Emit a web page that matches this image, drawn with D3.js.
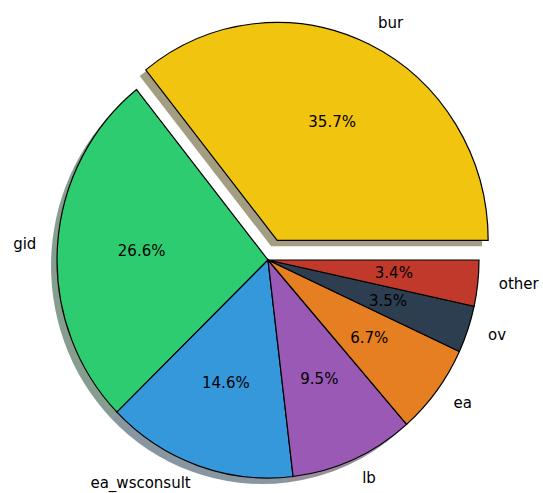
<!DOCTYPE html>
<html>
<head>
<meta charset="utf-8">
<script src="https://cdn.jsdelivr.net/npm/d3@7"></script>
<style>
  body { margin: 0; background: #fff; }
  svg text { font-family: "DejaVu Sans", sans-serif; font-size: 15px; fill: #000; }
</style>
</head>
<body>
<div id="chart"></div>
<script>
// data
const labels = ["bur", "gid", "ea_wsconsult", "lb", "ea", "ov", "other"];
const values = [35.7, 26.6, 14.6, 9.5, 6.7, 3.5, 3.4];
const colors = ["#f1c40f", "#2ecc71", "#3498db", "#9b59b6", "#e67e22", "#2c3e50", "#c0392b"];
const explode = [0.1, 0, 0, 0, 0, 0, 0];

const width = 543, height = 493;
const cx = 268, cy = 260, rx = 211, ry = 218;

// data units -> pixels (pie is a bit taller than wide)
const x = d3.scaleLinear().domain([-1, 1]).range([cx - rx, cx + rx]);
const y = d3.scaleLinear().domain([-1, 1]).range([cy + ry, cy - ry]);

const svg = d3.select("#chart")
    .append("svg")
    .attr("width", width)
    .attr("height", height);

// matplotlib style: start at 3 o'clock, counterclockwise
const pie = d3.pie().sort(null)
    .startAngle(Math.PI / 2)
    .endAngle(Math.PI / 2 - 2 * Math.PI)
    .value(d => d.value);

const data = labels.map((l, i) => ({ label: l, value: values[i], color: colors[i], explode: explode[i] }));
const arcs = pie(data);

const arc = d3.arc().innerRadius(0).outerRadius(1);

// mid angle in math convention
const theta = d => Math.PI / 2 - (d.startAngle + d.endAngle) / 2;
const offX = d => d.data.explode * Math.cos(theta(d));
const offY = d => d.data.explode * Math.sin(theta(d));

const wedgeTransform = (d, dx, dy) =>
    `translate(${x(offX(d)) + dx},${y(offY(d)) + dy}) scale(${rx},${ry})`;

// shadows first (below every wedge)
svg.append("g").selectAll("path")
    .data(arcs)
    .enter().append("path")
    .attr("d", arc)
    .attr("transform", d => wedgeTransform(d, -6, 6))
    .attr("fill", d => {
        const c = d3.rgb(d.data.color);
        return d3.rgb(c.r * 0.3, c.g * 0.3, c.b * 0.3);
    })
    .attr("fill-opacity", 0.5);

svg.append("g").selectAll("path")
    .data(arcs)
    .enter().append("path")
    .attr("d", arc)
    .attr("transform", d => wedgeTransform(d, 0, 0))
    .attr("fill", d => d.data.color)
    .attr("stroke", "#000")
    .attr("stroke-width", 1.2)
    .attr("vector-effect", "non-scaling-stroke");

// outer labels (underscore makes the text box deeper, so it sits higher)
svg.append("g").selectAll("text")
    .data(arcs)
    .enter().append("text")
    .attr("x", d => x(offX(d) + 1.1 * Math.cos(theta(d))))
    .attr("y", d => y(offY(d) + 1.1 * Math.sin(theta(d))))
    .attr("dy", d => d.data.label.includes("_") ? "0.12em" : "0.25em")
    .attr("text-anchor", d => Math.cos(theta(d)) > 0 ? "start" : "end")
    .text(d => d.data.label);

// percentage labels
svg.append("g").selectAll("text")
    .data(arcs)
    .enter().append("text")
    .attr("x", d => x(offX(d) + 0.6 * Math.cos(theta(d))))
    .attr("y", d => y(offY(d) + 0.6 * Math.sin(theta(d))))
    .attr("dy", "0.3em")
    .attr("text-anchor", "middle")
    .text(d => `${d.data.value.toFixed(1)}%`);
</script>
</body>
</html>
